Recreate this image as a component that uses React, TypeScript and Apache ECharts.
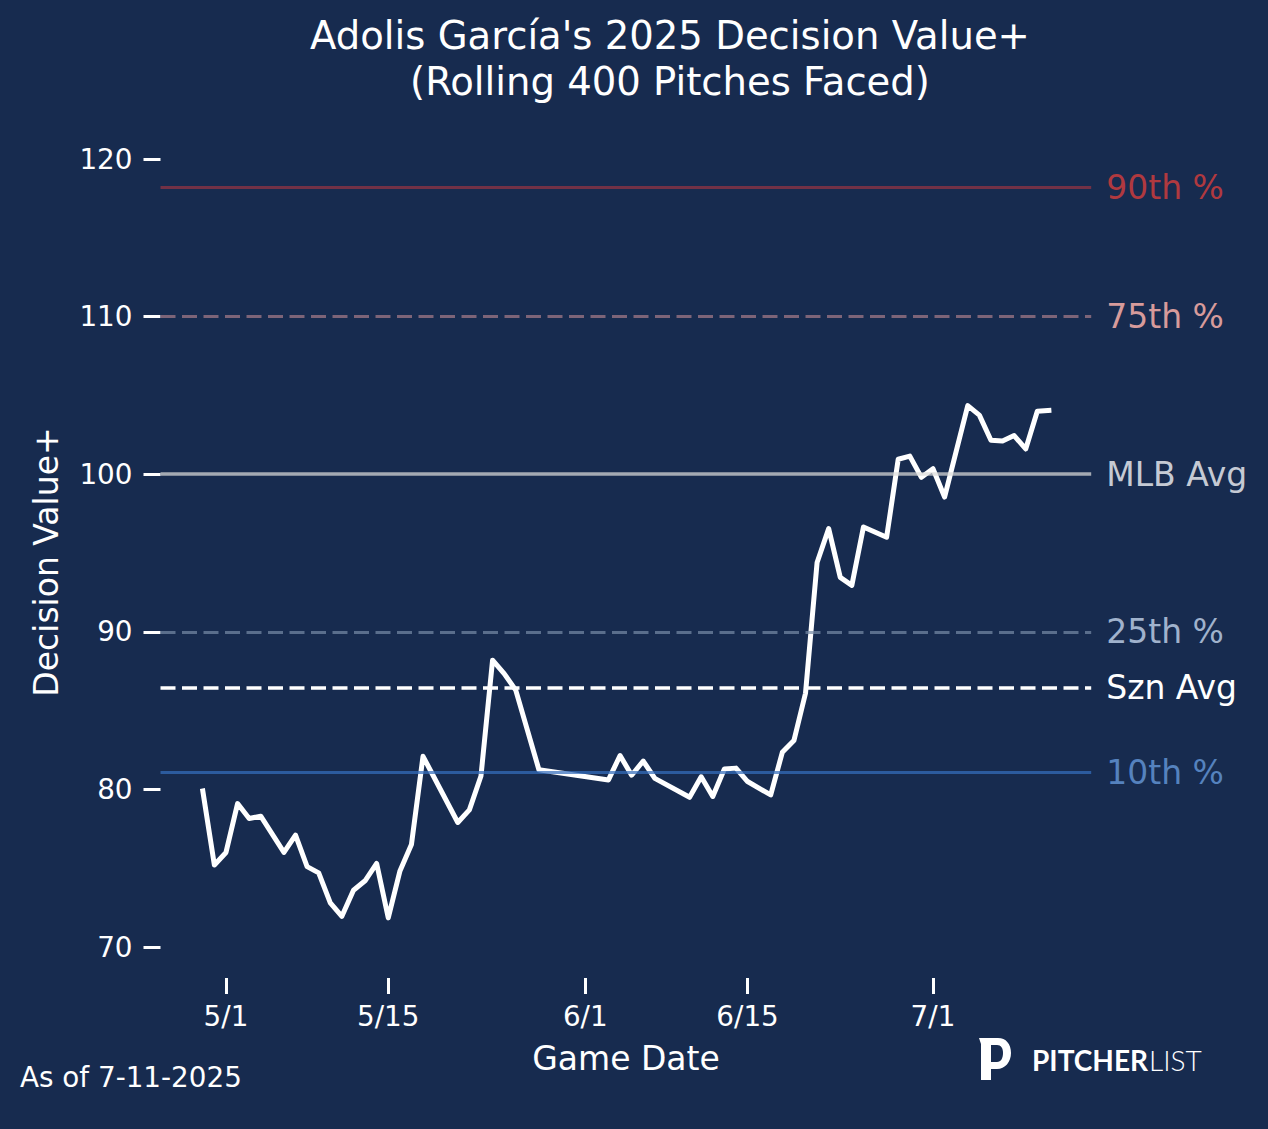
import React, { useEffect, useRef } from "react";
import * as echarts from "echarts";

// ---------- data ----------
const gameDates = [
  "2025-04-29", "2025-04-30", "2025-05-01", "2025-05-02", "2025-05-03", "2025-05-04",
  "2025-05-06", "2025-05-07", "2025-05-08", "2025-05-09", "2025-05-10", "2025-05-11",
  "2025-05-12", "2025-05-13", "2025-05-14", "2025-05-15", "2025-05-16", "2025-05-17",
  "2025-05-18", "2025-05-21", "2025-05-22", "2025-05-23", "2025-05-24", "2025-05-25",
  "2025-05-26", "2025-05-28", "2025-06-03", "2025-06-04", "2025-06-05", "2025-06-06",
  "2025-06-07", "2025-06-10", "2025-06-11", "2025-06-12", "2025-06-13", "2025-06-14",
  "2025-06-15", "2025-06-17", "2025-06-18", "2025-06-19", "2025-06-20", "2025-06-21",
  "2025-06-22", "2025-06-23", "2025-06-24", "2025-06-25", "2025-06-27", "2025-06-28",
  "2025-06-29", "2025-06-30", "2025-07-01", "2025-07-02", "2025-07-04", "2025-07-05",
  "2025-07-06", "2025-07-07", "2025-07-08", "2025-07-09", "2025-07-10", "2025-07-11",
];
const decisionValues = [
  79.9, 75.2, 76.0, 79.1, 78.15, 78.3,
  76.0, 77.1, 75.1, 74.7, 72.8, 71.95,
  73.6, 74.2, 75.3, 71.85, 74.8, 76.5,
  82.1, 77.9, 78.7, 80.85, 88.2, 87.35,
  86.3, 81.25, 80.6, 82.15, 80.9, 81.8,
  80.7, 79.5, 80.8, 79.55, 81.3, 81.35,
  80.5, 79.65, 82.35, 83.1, 86.1, 94.4,
  96.55, 93.45, 92.95, 96.65, 96.0, 100.95,
  101.15, 99.8, 100.35, 98.55, 104.35, 103.75,
  102.15, 102.1, 102.45, 101.6, 104.0, 104.05,
];

const tickDates = ["2025-05-01", "2025-05-15", "2025-06-01", "2025-06-15", "2025-07-01"];
const tickLabels = ["5/1", "5/15", "6/1", "6/15", "7/1"];
const yTicks = [70, 80, 90, 100, 110, 120];

const refNames = ["90th %", "75th %", "MLB Avg", "25th %", "Szn Avg", "10th %"];
const refValues = [118.2, 110, 100, 90, 86.45, 81.1];

// ---------- styles ----------
const BG = "#172b4f";
const FONT = '"DejaVu Sans", "Liberation Sans", sans-serif';
const refLineColors = [
  "#723146",
  "#7d6478",
  "rgba(219,219,218,0.72)",
  "rgba(119,139,166,0.7)",
  "#ffffff",
  "rgba(53,110,188,0.72)",
];
const refLineTypes: any[] = ["solid", [15, 6.5], "solid", [15, 6.5], [15, 6.5], "solid"];
const refLineWidths = [3.2, 3.2, 3.6, 3.2, 3.6, 3.2];
const refLabelColors = ["#b0393f", "#d79b9b", "#c5cad4", "#a0b2cc", "#ffffff", "#5582be"];

const BASE = Date.UTC(2025, 4, 1);
const toDay = (s: string) => {
  const [y, m, d] = s.split("-").map(Number);
  return (Date.UTC(y, m - 1, d) - BASE) / 86400000;
};

const dayValues = gameDates.map(toDay);
const seriesData = dayValues.map((d, i) => [d, decisionValues[i]]);
const tickDays = tickDates.map(toDay);
const firstDay = Math.min(...dayValues);
const lastDay = Math.max(...dayValues);
const pad = (lastDay - firstDay) * 0.05;
const xMin = firstDay - pad;
const xMax = lastDay + pad;

// Pitcher List logo glyph
const LOGO_D =
  "M0,0 L19,0 C27,0 32,6 32,15 C32,24 26,31 18,31 L12,31 L12,24 L18,24 C22,24 24,20 24,15 C24,10 22,7 18,7 L12,7 L12,42 L2,42 L2,6 Z";
echarts.graphic.registerShape("plLogo", echarts.graphic.extendPath(LOGO_D, {}));

export default function App() {
  const ref = useRef<HTMLDivElement>(null);
  useEffect(() => {
    document.body.style.margin = "0";
    document.body.style.background = BG;
    const chart = echarts.init(ref.current!, null, { renderer: "svg" });

    const markData = refNames.map((name, i) => ({
      name,
      yAxis: refValues[i],
      lineStyle: {
        color: refLineColors[i],
        type: refLineTypes[i],
        width: refLineWidths[i],
      },
      label: {
        show: true,
        position: "end",
        distance: 15,
        formatter: name,
        color: refLabelColors[i],
        fontSize: 33,
        fontFamily: FONT,
      },
    }));

    const option: any = {
      animation: false,
      backgroundColor: BG,
      grid: { left: 160.5, right: 176.8, top: 159, bottom: 182, containLabel: false },
      xAxis: {
        type: "value",
        min: xMin,
        max: xMax,
        offset: 31,
        axisLine: { show: false, onZero: false },
        splitLine: { show: false },
        axisTick: {
          show: true,
          customValues: tickDays,
          length: 16,
          lineStyle: { color: "#ffffff", width: 3 },
        },
        axisLabel: {
          customValues: tickDays,
          formatter: (v: number) => {
            const idx = tickDays.findIndex((t) => Math.abs(t - v) < 1e-6);
            return idx >= 0 ? tickLabels[idx] : "";
          },
          color: "#ffffff",
          fontSize: 27.8,
          fontFamily: FONT,
          margin: 24,
        },
      },
      yAxis: {
        type: "value",
        min: yTicks[0],
        max: yTicks[yTicks.length - 1],
        interval: 10,
        axisLine: { show: false, onZero: false },
        splitLine: { show: false },
        axisTick: {
          show: true,
          length: 17,
          lineStyle: { color: "#ffffff", width: 3 },
        },
        axisLabel: {
          color: "#ffffff",
          fontSize: 27.8,
          fontFamily: FONT,
          margin: 28,
        },
      },
      series: [
        {
          type: "line",
          data: seriesData,
          showSymbol: false,
          symbol: "none",
          clip: false,
          z: 2,
          lineStyle: { color: "#ffffff", width: 5, cap: "square", join: "round" },
        },
        {
          type: "line",
          data: [],
          z: 5,
          markLine: {
            silent: true,
            animation: false,
            symbol: ["none", "none"],
            data: markData,
          },
        },
      ],
      graphic: [
        {
          type: "text",
          x: 670,
          y: 35,
          style: {
            text: "Adolis García's 2025 Decision Value+",
            fill: "#ffffff",
            fontSize: 38.6,
            fontFamily: FONT,
            align: "center",
            verticalAlign: "middle",
          },
        },
        {
          type: "text",
          x: 670,
          y: 81,
          style: {
            text: "(Rolling 400 Pitches Faced)",
            fill: "#ffffff",
            fontSize: 38.6,
            fontFamily: FONT,
            align: "center",
            verticalAlign: "middle",
          },
        },
        {
          type: "text",
          x: 626,
          y: 1058,
          style: {
            text: "Game Date",
            fill: "#ffffff",
            fontSize: 33,
            fontFamily: FONT,
            align: "center",
            verticalAlign: "middle",
          },
        },
        {
          type: "text",
          x: 46,
          y: 562,
          rotation: Math.PI / 2,
          style: {
            text: "Decision Value+",
            fill: "#ffffff",
            fontSize: 33,
            fontFamily: FONT,
            align: "center",
            verticalAlign: "middle",
          },
        },
        {
          type: "text",
          x: 20,
          y: 1077,
          style: {
            text: "As of 7-11-2025",
            fill: "#ffffff",
            fontSize: 27.8,
            fontFamily: FONT,
            align: "left",
            verticalAlign: "middle",
          },
        },
        {
          type: "plLogo",
          x: 979,
          y: 1038,
          style: { fill: "#ffffff" },
        },
        {
          type: "text",
          x: 1148,
          y: 1060,
          style: {
            text: "PITCHER",
            fill: "#ffffff",
            fontSize: 28,
            fontWeight: "bold",
            fontFamily: "Lato, 'Open Sans', sans-serif",
            align: "right",
            verticalAlign: "middle",
          },
        },
        {
          type: "text",
          x: 1149,
          y: 1060,
          style: {
            text: "LIST",
            fill: "#ffffff",
            fontSize: 28,
            fontWeight: 300,
            fontFamily: "Lato, 'Open Sans', sans-serif",
            align: "left",
            verticalAlign: "middle",
          },
        },
      ],
    };

    chart.setOption(option);
    return () => chart.dispose();
  }, []);
  return <div ref={ref} style={{ width: 1268, height: 1129 }} />;
}
